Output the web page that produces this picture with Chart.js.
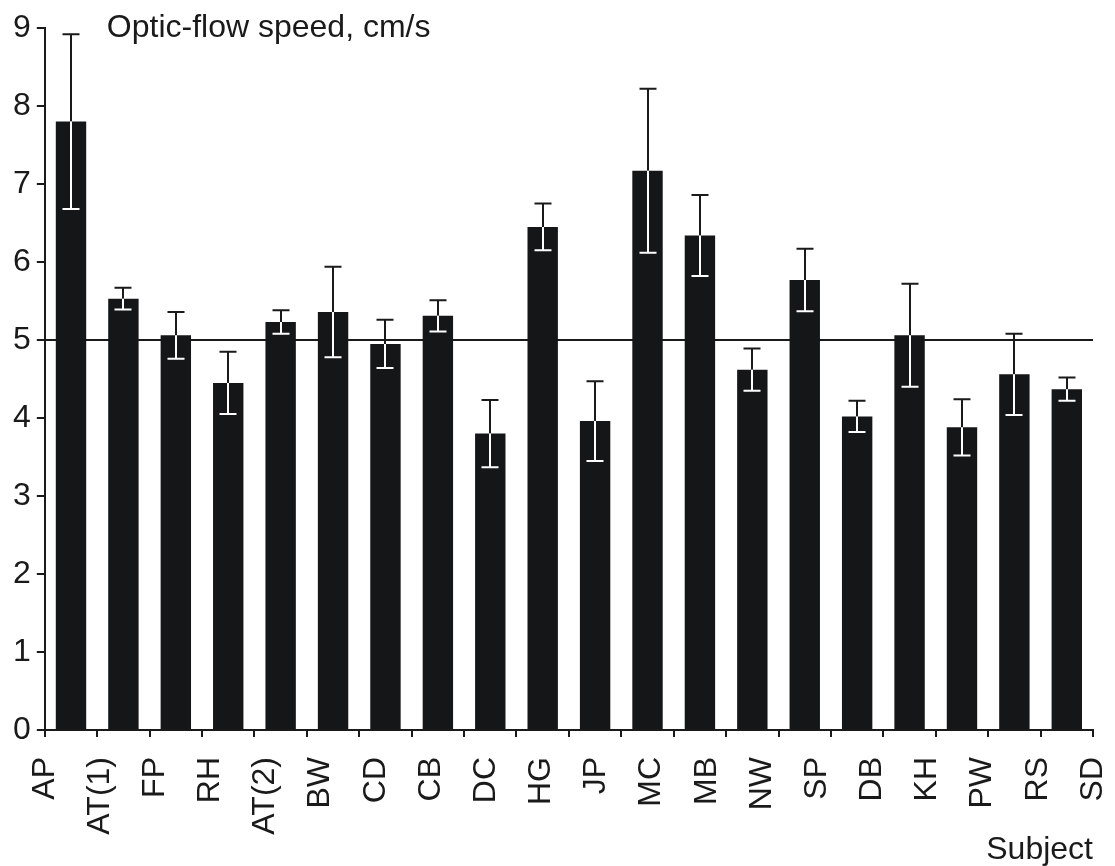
<!DOCTYPE html>
<html>
<head>
<meta charset="utf-8">
<script src="https://cdn.jsdelivr.net/npm/chart.js@4"></script>
<style>
  body { margin: 0; background: #fff; }
  canvas { display: block; }
</style>
</head>
<body>
<canvas id="flowChart" width="1115" height="866"></canvas>
<script>
const subjects = ["AP", "AT(1)", "FP", "RH", "AT(2)", "BW", "CD", "CB", "DC", "HG",
  "JP", "MC", "MB", "NW", "SP", "DB", "KH", "PW", "RS", "SD"];
const speeds = [7.80, 5.53, 5.06, 4.45, 5.23, 5.36, 4.95, 5.31, 3.80, 6.45,
  3.96, 7.17, 6.34, 4.62, 5.77, 4.02, 5.06, 3.88, 4.56, 4.37];
const speedErr = [1.12, 0.14, 0.30, 0.40, 0.15, 0.58, 0.31, 0.20, 0.43, 0.30,
  0.51, 1.05, 0.52, 0.27, 0.40, 0.20, 0.66, 0.36, 0.52, 0.15];
const yTicks = [0, 1, 2, 3, 4, 5, 6, 7, 8, 9];
const refLine = 5;

const ink = "#1a1a1a";
const font = { family: "'Liberation Sans', Arial, sans-serif", size: 32, lineHeight: 1 };

// error bars: black above the bar, white where they run inside it
const errorBars = {
  id: "errorBars",
  afterDatasetsDraw(chart) {
    const ctx = chart.ctx;
    const y = chart.scales.y;
    const meta = chart.getDatasetMeta(0);
    ctx.save();
    ctx.lineWidth = 2;
    meta.data.forEach((bar, i) => {
      const hi = y.getPixelForValue(speeds[i] + speedErr[i]);
      const lo = y.getPixelForValue(speeds[i] - speedErr[i]);
      const x = Math.round(bar.x);
      const cap = 8.5;
      ctx.strokeStyle = ink;
      ctx.beginPath();
      ctx.moveTo(x, hi); ctx.lineTo(x, bar.y);
      ctx.moveTo(x - cap, hi); ctx.lineTo(x + cap, hi);
      ctx.stroke();
      ctx.strokeStyle = "#fff";
      ctx.beginPath();
      ctx.moveTo(x, bar.y); ctx.lineTo(x, lo);
      ctx.moveTo(x - cap, lo); ctx.lineTo(x + cap, lo);
      ctx.stroke();
    });
    ctx.restore();
  }
};

// y axis caption written beside the top tick
const yCaption = {
  id: "yCaption",
  afterDraw(chart) {
    const ctx = chart.ctx;
    const area = chart.chartArea;
    ctx.save();
    ctx.font = font.size + "px " + font.family;
    ctx.fillStyle = ink;
    ctx.textBaseline = "alphabetic";
    ctx.fillText("Optic-flow speed, cm/s", area.left + 62, area.top + 9);
    ctx.restore();
  }
};

new Chart(document.getElementById("flowChart").getContext("2d"), {
  type: "bar",
  data: {
    labels: subjects,
    datasets: [{
      data: speeds,
      backgroundColor: "#151617",
      borderWidth: 0,
      barPercentage: 0.58,
      categoryPercentage: 1,
      xAxisID: "x",
      yAxisID: "y"
    }]
  },
  options: {
    responsive: false,
    animation: false,
    layout: { padding: { top: 28, left: 7, right: 22, bottom: 0 } },
    plugins: {
      legend: { display: false },
      tooltip: { enabled: false }
    },
    scales: {
      x: {
        type: "category",
        position: "bottom",
        weight: 0,
        offset: true,
        grid: {
          offset: true,
          drawOnChartArea: false,
          color: ink,
          tickColor: ink,
          tickLength: 7,
          lineWidth: 2
        },
        border: { color: ink, width: 2 },
        ticks: { display: false }
      },
      // subject names are spread evenly from the first to the last tick mark
      xs: {
        type: "linear",
        position: "bottom",
        weight: 1,
        offset: false,
        min: 0,
        max: subjects.length - 1,
        grid: { display: false, offset: false },
        border: { display: false },
        ticks: {
          stepSize: 1,
          autoSkip: false,
          minRotation: 90,
          maxRotation: 90,
          padding: 12,
          color: ink,
          font: font,
          callback: v => subjects[v]
        },
        title: {
          display: true,
          text: "Subject",
          align: "end",
          color: ink,
          font: font,
          padding: { top: 0, bottom: 0 }
        },
        afterFit: s => {
          s.height = 129;
          s.paddingLeft = 0;
          s.paddingRight = 0;
        }
      },
      y: {
        min: yTicks[0],
        max: yTicks[yTicks.length - 1],
        afterBuildTicks: axis => { axis.ticks = yTicks.map(v => ({ value: v })); },
        grid: {
          color: c => (c.tick && c.tick.value === refLine ? ink : "rgba(0,0,0,0)"),
          tickColor: ink,
          tickLength: 8,
          lineWidth: 2
        },
        border: { color: ink, width: 2 },
        ticks: { color: ink, font: font, padding: 6 },
        afterFit: s => {
          s.paddingTop = 0;
          s.paddingBottom = 0;
        }
      }
    }
  },
  plugins: [errorBars, yCaption]
});
</script>
</body>
</html>
